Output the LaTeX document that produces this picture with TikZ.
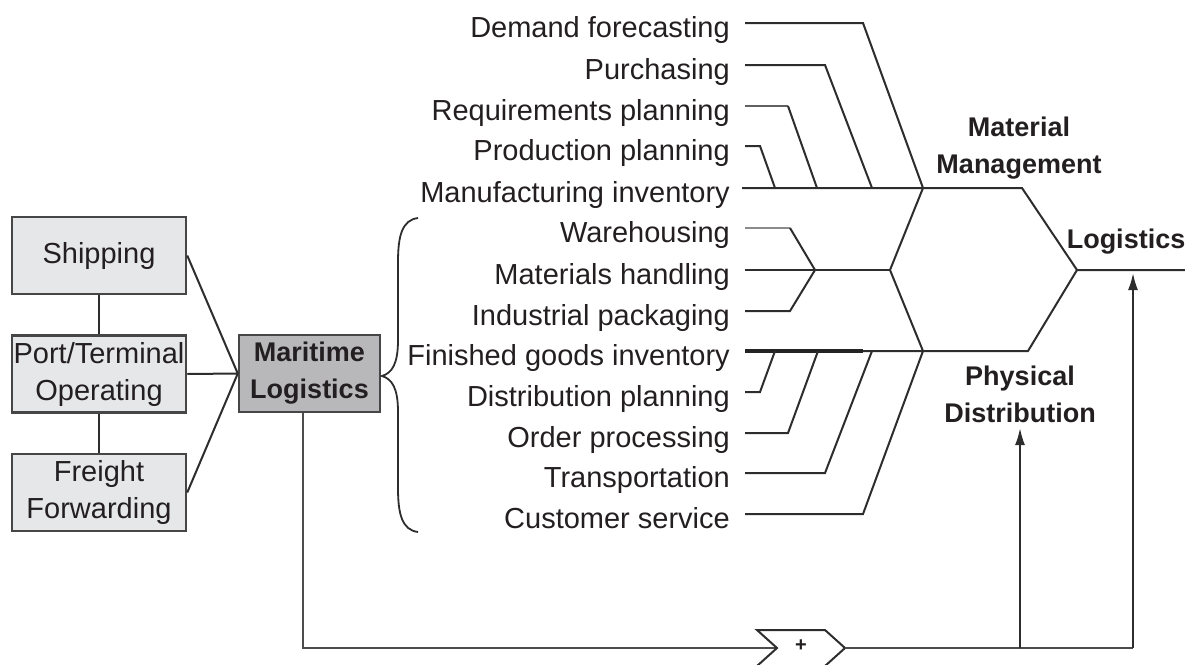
\documentclass[tikz,border=0pt]{standalone}
\usepackage{fontspec}
\setmainfont{Liberation Sans}
\usetikzlibrary{arrows.meta}
\definecolor{txt}{RGB}{35,31,32}
\definecolor{ln}{RGB}{45,45,45}
\definecolor{boxfill}{RGB}{230,231,232}
\definecolor{boxdark}{RGB}{184,184,186}
\definecolor{boxline}{RGB}{70,70,70}
\begin{document}
\begin{tikzpicture}[x=1pt,y=-1pt,
  item/.style={anchor=base east, inner sep=0, text=txt, font=\fontsize{29}{37}\selectfont},
  head/.style={align=center, inner sep=0, text=txt, font=\bfseries\fontsize{27}{37}\selectfont},
  lbox/.style={draw=boxline, line width=2.5pt, fill=boxfill, minimum width=174pt, minimum height=77pt, inner sep=0, align=center, text=txt, font=\fontsize{29}{37}\selectfont},
  mbox/.style={lbox, fill=boxdark, minimum width=141pt, font=\bfseries\fontsize{27}{37}\selectfont},
  fish/.style={draw=ln, line width=2pt},
  thickfish/.style={draw=ln!80!black, line width=3.5pt},
  base/.style={draw=ln!85, line width=2.6pt},
  arr/.style={fish, -{Latex[length=17pt,width=10pt]}}
]
\useasboundingbox (0,0) rectangle (1185,664);

% left boxes
\node[lbox] (ship) at (99,255.5) {Shipping};
\node[lbox] (port) at (99,374) {Port/Terminal\\Operating};
\node[lbox] (frt) at (99,492.5) {Freight\\Forwarding};
\node[mbox] (mar) at (309.5,373.5) {Maritime\\Logistics};

\draw[fish] (ship.south) -- (port.north);
\draw[fish] (port.south) -- (frt.north);
\draw[fish] (ship.east) -- (mar.west);
\draw[fish] (port.east) -- (mar.west);
\draw[fish] (frt.east) -- (mar.west);

% brace
\coordinate (btip) at (382,376);
\draw[fish, line width=1.8pt] (418,218) .. controls (402,220) and (398,236) .. (398,262) -- (398,340)
  .. controls (398,364) and (392,373) .. (btip)
  .. controls (392,379) and (398,388) .. (398,412) -- (398,488)
  .. controls (398,514) and (402,530) .. (418,532);

% item texts
\node[item] (t1) at (730,37) {Demand forecasting};
\node[item] (t2) at (730,79) {Purchasing};
\node[item] (t3) at (730,120) {Requirements planning};
\node[item] (t4) at (730,160) {Production planning};
\node[item] (t5) at (730,202) {Manufacturing inventory};
\node[item] (t6) at (730,242) {Warehousing};
\node[item] (t7) at (730,284) {Materials handling};
\node[item] (t8) at (730,325) {Industrial packaging};
\node[item] (t9) at (730,365) {Finished goods inventory};
\node[item] (t10) at (730,406) {Distribution planning};
\node[item] (t11) at (730,447) {Order processing};
\node[item] (t12) at (730,487) {Transportation};
\node[item] (t13) at (730,528) {Customer service};

% junctions
\coordinate (jm) at (923,188);
\coordinate (jp) at (923,351);
\coordinate (jc) at (890,270);
\coordinate (jh) at (815,270);
\coordinate (jl) at (1077,270);
\coordinate (lend) at (1185,270);
\coordinate (m2) at (872,188);
\coordinate (m3) at (817,188);
\coordinate (m4) at (775,188);
\coordinate (p2) at (872,351);
\coordinate (p3) at (818,351);
\coordinate (p4) at (775,351);
\coordinate (mr) at (1022,188);
\coordinate (pr) at (1028,351);

% material management branch
\draw[fish] ([xshift=15pt,yshift=14pt]t1.base east) -- ++(118,0) -- (jm);
\draw[fish] ([xshift=15pt,yshift=14pt]t2.base east) -- ++(80,0) -- (m2);
\draw[fish, draw=ln!75] ([xshift=15pt,yshift=14pt]t3.base east) -- ++(43,0);
\draw[fish] ([xshift=58pt,yshift=14pt]t3.base east) -- (m3);
\draw[fish] ([xshift=15pt,yshift=14pt]t4.base east) -- ++(15,0) -- (m4);
\draw[fish] ([xshift=12pt,yshift=14pt]t5.base east) -- (jm) -- (mr) -- (jl) -- (lend);

% middle branch
\draw[fish, draw=ln!55] ([xshift=15pt,yshift=14pt]t6.base east) -- ++(45,0);
\draw[fish] ([xshift=60pt,yshift=14pt]t6.base east) -- (jh);
\draw[fish] ([xshift=15pt,yshift=14pt]t7.base east) -- (jh) -- (jc);
\draw[fish] ([xshift=15pt,yshift=14pt]t8.base east) -- ++(45,0) -- (jh);
\draw[fish] (jm) -- (jc) -- (jp);

% physical distribution branch
\draw[thickfish] ([xshift=15pt,yshift=14pt]t9.base east) -- ++(118,0);
\draw[fish] ([xshift=133pt,yshift=14pt]t9.base east) -- (jp) -- (pr) -- (jl);
\draw[fish] ([xshift=15pt,yshift=14pt]t10.base east) -- ++(15,0) -- (p4);
\draw[fish] ([xshift=15pt,yshift=14pt]t11.base east) -- ++(43,0) -- (p3);
\draw[fish] ([xshift=15pt,yshift=14pt]t12.base east) -- ++(80,0) -- (p2);
\draw[fish] ([xshift=15pt,yshift=14pt]t13.base east) -- ++(118,0) -- (jp);

% headings
\node[head] (mm) at (1019,148) {Material\\Management};
\node[head] (pd) at (1020,394) {Physical\\Distribution};
\node[head, anchor=base] (lg) at (1126,248) {Logistics};

% bottom feedback line
\coordinate (ml) at (303,648);
\coordinate (notch) at (777,648);
\coordinate (ctip) at (845,648);
\coordinate (pdb) at (1020,648);
\coordinate (lgb) at (1133,648);
\draw[base] (ml |- mar.south) -- (ml) -- (notch);
\draw[fish] (757,630) -- (825,630) -- (ctip) -- (825,666) -- (757,666) -- (notch) -- cycle;
\node[text=txt, font=\bfseries\fontsize{20}{20}\selectfont, inner sep=0] (plus) at (801,646) {+};
\draw[base] (ctip) -- (lgb);
\draw[arr] (pdb) -- (1020,428);
\draw[arr] (lgb) -- (lgb |- 0,273);
\end{tikzpicture}
\end{document}
